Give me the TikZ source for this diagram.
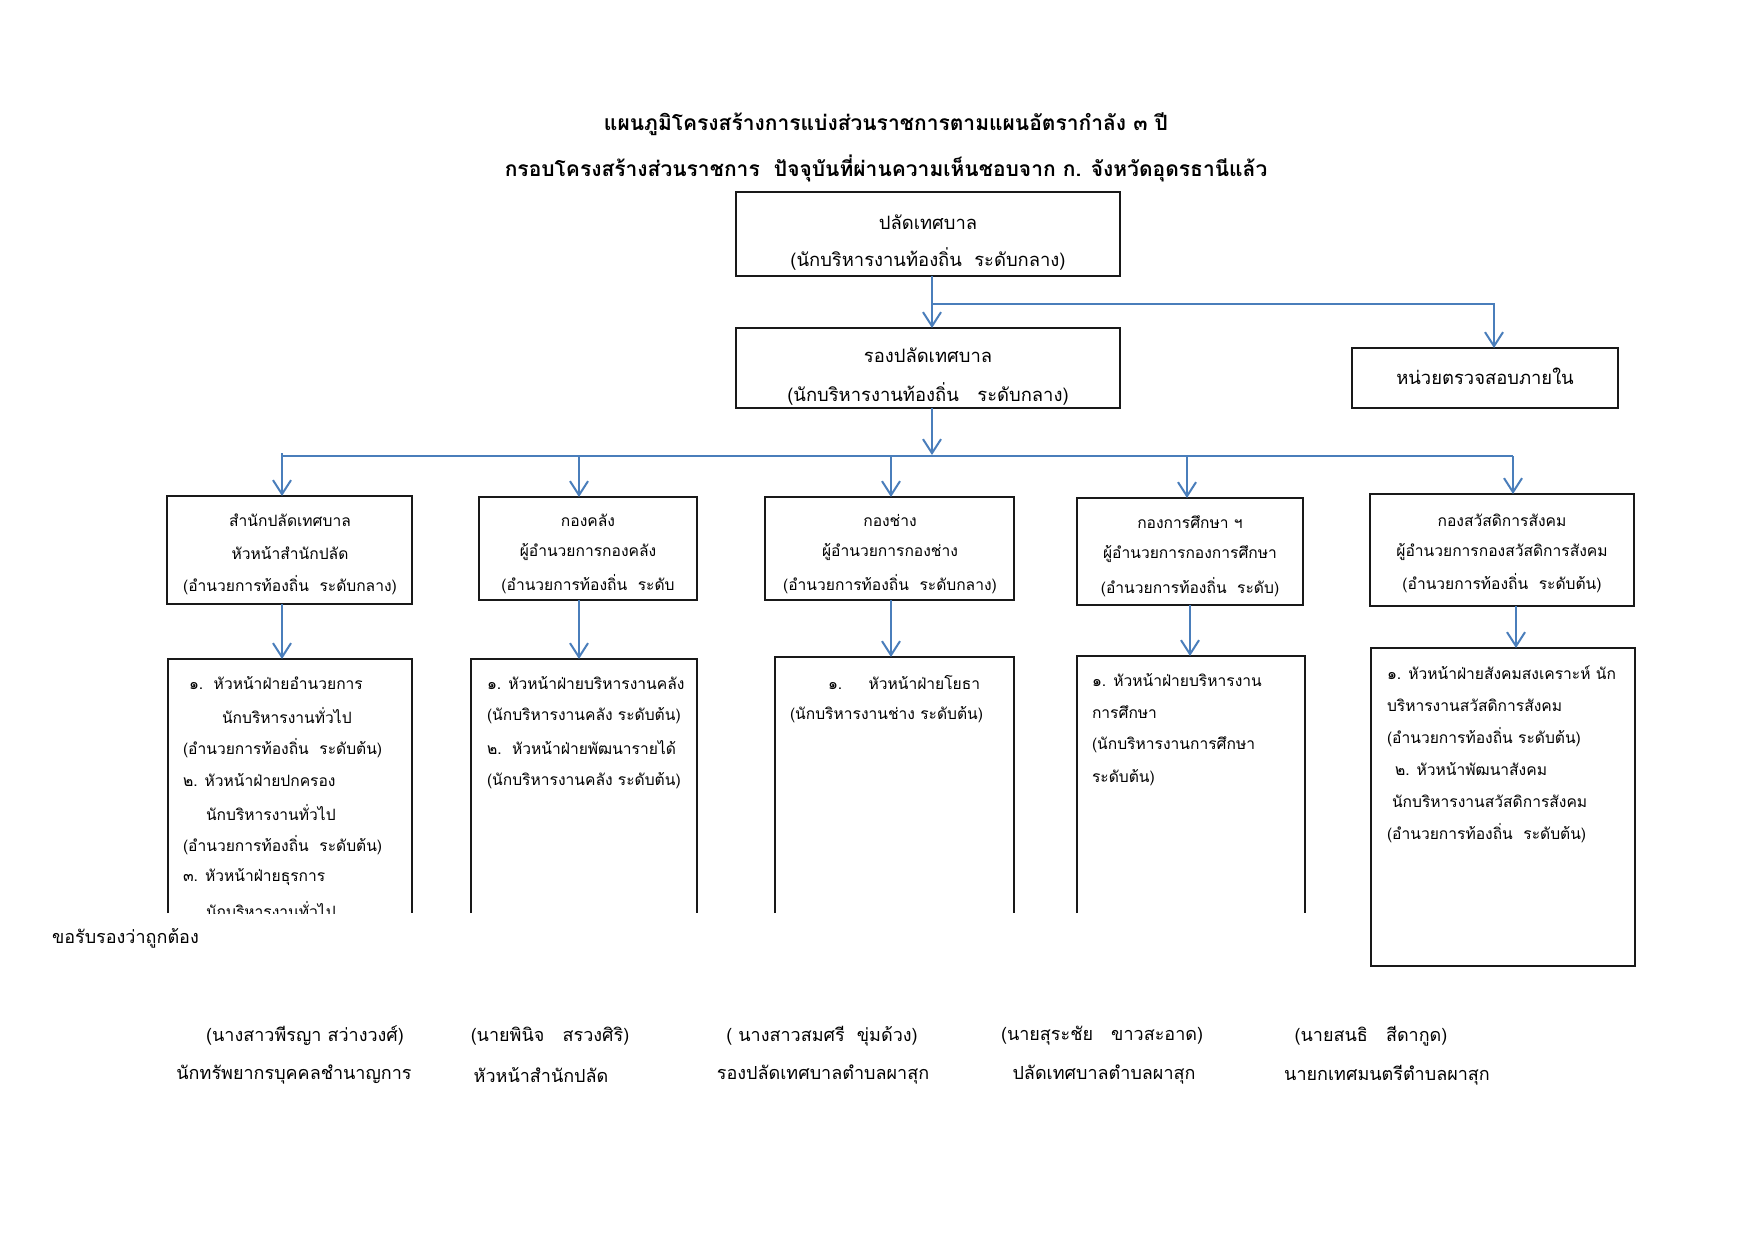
\documentclass[tikz,border=0pt]{standalone}
\usepackage{fontspec}
\newfontfamily\thai[Script=Thai]{Loma}
\usetikzlibrary{arrows.meta,calc,fit}
\definecolor{lineblue}{RGB}{74,126,187}
\definecolor{boxline}{RGB}{25,25,25}
\begin{document}
\begin{tikzpicture}[x=0.5pt,y=-0.5pt,
  every node/.style={inner sep=0pt, outer sep=0pt},
  txt/.style={font=\thai\fontsize{7.8}{10}\selectfont},
  bigtxt/.style={font=\thai\fontsize{9.2}{12}\selectfont},
  sigtxt/.style={font=\thai\fontsize{9}{11}\selectfont},
  titletxt/.style={font=\thai\bfseries\fontsize{10.5}{13}\selectfont},
  box/.style={draw=boxline, line width=0.8pt, rectangle, inner sep=0pt},
  area/.style={draw=none, rectangle, inner sep=0pt},
  side/.style={draw=boxline, line width=0.8pt},
  arr/.style={draw=lineblue, line width=1pt, -{Straight Barb[length=7pt,width=9pt,line width=1pt]}},
  bus/.style={draw=lineblue, line width=1pt},
]
\useasboundingbox[fill=white] (0,0) rectangle (1755,1241);

% ---- title
\node[titletxt] (title1) at (886,124) {แผนภูมิโครงสร้างการแบ่งส่วนราชการตามแผนอัตรากำลัง ๓ ปี};
\node[titletxt] (title2) at (886,168) {กรอบโครงสร้างส่วนราชการ\ \ ปัจจุบันที่ผ่านความเห็นชอบจาก ก. จังหวัดอุดรธานีแล้ว};

% ---- top boxes
\node[box, fit={(736,192)(1120,276)}] (top) {};
\node[bigtxt] (topA) at (928,222) {ปลัดเทศบาล};
\node[bigtxt] (topB) at (928,259) {(นักบริหารงานท้องถิ่น\ \ ระดับกลาง)};

\node[box, fit={(736,328)(1120,408)}] (sub) {};
\begin{scope}
\clip (736,328) rectangle (1120,408);
\node[bigtxt] (subA) at (928,355) {รองปลัดเทศบาล};
\node[bigtxt] (subB) at (928,394) {(นักบริหารงานท้องถิ่น\ \ \ ระดับกลาง)};
\end{scope}

\node[box, fit={(1352,348)(1618,408)}] (audit) {};
\node[bigtxt] (auditA) at (1485,376) {หน่วยตรวจสอบภายใน};

\coordinate (spine) at (932,0);
\coordinate (br) at (932,304);
\draw[arr] (top.south -| spine) -- (sub.north -| spine);
\draw[arr] (br) -| ([xshift=4.5pt]audit.north);

% ---- second row of boxes
\node[box, fit={(167,496)(412,604)}] (B1) {};
\node[box, fit={(479,497)(697,600)}] (B2) {};
\node[box, fit={(765,497)(1014,600)}] (B3) {};
\node[box, fit={(1077,498)(1303,605)}] (B4) {};
\node[box, fit={(1370,494)(1634,606)}] (B5) {};

\coordinate (bus1) at (282,456);
\coordinate (bus2) at (579,456);
\coordinate (bus3) at (891,456);
\coordinate (bus4) at (1187,456);
\coordinate (bus5) at (1513,456);
\draw[arr] (sub.south -| spine) -- ($(bus3 -| spine)+(0,-1)$);
\draw[bus] ([yshift=1.5pt]bus1) -- (bus1) -- (bus5);
\draw[arr] (bus1) -- (B1.north -| bus1);
\draw[arr] (bus2) -- (B2.north -| bus2);
\draw[arr] (bus3) -- (B3.north -| bus3);
\draw[arr] (bus4) -- (B4.north -| bus4);
\draw[arr] (bus5) -- (B5.north -| bus5);

\node[txt] (B1a) at (290,520) {สำนักปลัดเทศบาล};
\node[txt] (B1b) at (290,553) {หัวหน้าสำนักปลัด};
\node[txt] (B1c) at (290,585) {(อำนวยการท้องถิ่น\ \ ระดับกลาง)};
\node[txt] (B2a) at (588,520) {กองคลัง};
\node[txt] (B2b) at (588,552) {ผู้อำนวยการกองคลัง};
\node[txt] (B2c) at (588,584) {(อำนวยการท้องถิ่น\ \ ระดับ};
\node[txt] (B3a) at (890,520) {กองช่าง};
\node[txt] (B3b) at (890,552) {ผู้อำนวยการกองช่าง};
\node[txt] (B3c) at (890,584) {(อำนวยการท้องถิ่น\ \ ระดับกลาง)};
\node[txt] (B4a) at (1190,522) {กองการศึกษา ฯ};
\node[txt] (B4b) at (1190,554) {ผู้อำนวยการกองการศึกษา};
\node[txt] (B4c) at (1190,587) {(อำนวยการท้องถิ่น\ \ ระดับ)};
\node[txt] (B5a) at (1502,520) {กองสวัสดิการสังคม};
\node[txt] (B5b) at (1502,552) {ผู้อำนวยการกองสวัสดิการสังคม};
\node[txt] (B5c) at (1502,583) {(อำนวยการท้องถิ่น\ \ ระดับต้น)};

% ---- lower boxes (four cut off at the page fold)
\node[area, fit={(168,659)(412,913)}] (L1) {};
\node[area, fit={(471,659)(697,913)}] (L2) {};
\node[area, fit={(775,657)(1014,913)}] (L3) {};
\node[area, fit={(1077,656)(1305,913)}] (L4) {};
\node[box, fit={(1371,648)(1635,966)}] (L5) {};
\foreach \n in {L1,L2,L3,L4}
  \draw[side] (\n.south west) -- (\n.north west) -- (\n.north east) -- (\n.south east);

\draw[arr] (B1.south -| bus1) -- (L1.north -| bus1);
\draw[arr] (B2.south -| bus2) -- (L2.north -| bus2);
\draw[arr] (B3.south -| bus3) -- (L3.north -| bus3);
\coordinate (d4) at (1190,0);
\coordinate (d5) at (1516,0);
\draw[arr] (B4.south -| d4) -- (L4.north -| d4);
\draw[arr] (B5.south -| d5) -- (L5.north -| d5);

\begin{scope}
\clip (150,640) rectangle (1320,913);
\foreach \xx/\t [count=\i] in {
  189/{๑.\ \ หัวหน้าฝ่ายอำนวยการ},
  222/{นักบริหารงานทั่วไป},
  183/{(อำนวยการท้องถิ่น\ \ ระดับต้น)},
  183/{๒. หัวหน้าฝ่ายปกครอง},
  206/{นักบริหารงานทั่วไป},
  183/{(อำนวยการท้องถิ่น\ \ ระดับต้น)},
  183/{๓. หัวหน้าฝ่ายธุรการ},
  206/{นักบริหารงานทั่วไป}}
  \node[txt, anchor=west] (L1t\i) at (\xx,{683+32.4*(\i-1)}) {\t};
\foreach \t [count=\i] in {
  {๑. หัวหน้าฝ่ายบริหารงานคลัง},
  {(นักบริหารงานคลัง ระดับต้น)},
  {๒.\ \ หัวหน้าฝ่ายพัฒนารายได้},
  {(นักบริหารงานคลัง ระดับต้น)}}
  \node[txt, anchor=west] (L2t\i) at (487,{683+32.4*(\i-1)}) {\t};
\node[txt, anchor=west] (L3t1) at (828,683) {๑.\ \ \ \ \ หัวหน้าฝ่ายโยธา};
\node[txt, anchor=west] (L3t2) at (790,715) {(นักบริหารงานช่าง ระดับต้น)};
\foreach \t [count=\i] in {
  {๑. หัวหน้าฝ่ายบริหารงาน},
  {การศึกษา},
  {(นักบริหารงานการศึกษา},
  {ระดับต้น)}}
  \node[txt, anchor=west] (L4t\i) at (1092,{680+32.4*(\i-1)}) {\t};
\end{scope}

\foreach \xx/\t [count=\i] in {
  1387/{๑. หัวหน้าฝ่ายสังคมสงเคราะห์ นัก},
  1387/{บริหารงานสวัสดิการสังคม},
  1387/{(อำนวยการท้องถิ่น ระดับต้น)},
  1395/{๒. หัวหน้าพัฒนาสังคม},
  1392/{นักบริหารงานสวัสดิการสังคม},
  1387/{(อำนวยการท้องถิ่น\ \ ระดับต้น)}}
  \node[txt, anchor=west] (L5t\i) at (\xx,{673+32*(\i-1)}) {\t};

% ---- certification
\node[sigtxt, anchor=west] (cert) at (52,938) {ขอรับรองว่าถูกต้อง};
\node[sigtxt] (s1a) at (305,1036) {(นางสาวพีรญา สว่างวงศ์)};
\node[sigtxt] (s1b) at (294,1075) {นักทรัพยากรบุคคลชำนาญการ};
\node[sigtxt] (s2a) at (550,1036) {(นายพินิจ\ \ \ สรวงศิริ)};
\node[sigtxt] (s2b) at (541,1075) {หัวหน้าสำนักปลัด};
\node[sigtxt] (s3a) at (822,1036) {( นางสาวสมศรี\ \ ขุ่มด้วง)};
\node[sigtxt] (s3b) at (823,1075) {รองปลัดเทศบาลตำบลผาสุก};
\node[sigtxt] (s4a) at (1102,1036) {(นายสุระชัย\ \ \ ขาวสะอาด)};
\node[sigtxt] (s4b) at (1104,1075) {ปลัดเทศบาลตำบลผาสุก};
\node[sigtxt] (s5a) at (1371,1036) {(นายสนธิ\ \ \ สีดากูด)};
\node[sigtxt] (s5b) at (1387,1075) {นายกเทศมนตรีตำบลผาสุก};
\end{tikzpicture}
\end{document}
